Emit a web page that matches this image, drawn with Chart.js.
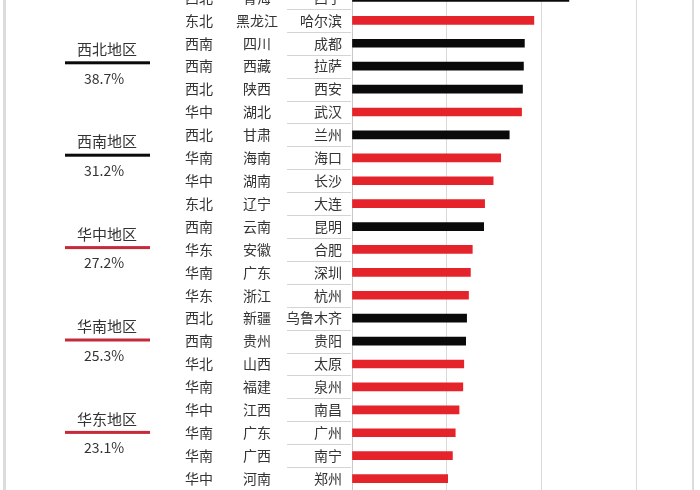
<!DOCTYPE html>
<html>
<head>
<meta charset="utf-8">
<script src="https://cdn.jsdelivr.net/npm/chart.js@4"></script>
<style>
  html, body { margin: 0; padding: 0; background: #ffffff; overflow: hidden; width: 700px; height: 490px; }
  #wrap { position: absolute; left: 0; top: -14px; width: 700px; height: 504px; }
</style>
</head>
<body>
<div id="wrap"><canvas id="c"></canvas></div>
<script>
const regions   = ['西北','东北','西南','西南','西北','华中','西北','华南','华中','东北','西南','华东','华南','华东','西北','西南','华北','华南','华中','华南','华南','华中'];
const provinces = ['青海','黑龙江','四川','西藏','陕西','湖北','甘肃','海南','湖南','辽宁','云南','安徽','广东','浙江','新疆','贵州','山西','福建','江西','广东','广西','河南'];
const cities    = ['西宁','哈尔滨','成都','拉萨','西安','武汉','兰州','海口','长沙','大连','昆明','合肥','深圳','杭州','乌鲁木齐','贵阳','太原','泉州','南昌','广州','南宁','郑州'];
const values    = [22.9,19.2,18.2,18.1,18.0,17.9,16.6,15.7,14.9,14.0,13.9,12.7,12.5,12.3,12.1,12.0,11.8,11.7,11.3,10.9,10.6,10.1];

const summaryRegions = ['西北地区','西南地区','华中地区','华南地区','华东地区'];
const summaryShares  = [38.7,31.2,27.2,25.3,23.1];

const BLACK = '#0a0a0a', RED = '#e5232b', LINE_RED = '#c62a3a';
const isBlack = r => r === '西北' || r === '西南';
const barColors = regions.map(r => isBlack(r) ? BLACK : RED);
const summaryColors = summaryRegions.map(r => isBlack(r.slice(0, 2)) ? BLACK : LINE_RED);

const FONT = '"Noto Sans CJK SC", "Noto Sans", sans-serif';

const labelPlugin = {
  id: 'labels',
  afterDraw(chart) {
    const ctx = chart.ctx;
    const ys = chart.scales.y;
    const off = 14; // canvas offset relative to page
    ctx.save();
    // frame
    ctx.fillStyle = '#dcdcdc';
    ctx.fillRect(3, 0, 3, chart.height);
    ctx.fillRect(692, 0, 2, chart.height);
    // row labels
    ctx.font = '14px ' + FONT;
    ctx.fillStyle = '#333333';
    ctx.textBaseline = 'middle';
    for (let i = 0; i < cities.length; i++) {
      const y = ys.getPixelForValue(i);
      ctx.textAlign = 'center';
      ctx.fillText(regions[i], 199, y);
      ctx.fillText(provinces[i], 257, y);
      ctx.textAlign = 'right';
      ctx.fillText(cities[i], 342, y);
      if (i < cities.length - 1) {
        const yb = Math.round((y + ys.getPixelForValue(i + 1)) / 2) + 0.5;
        ctx.strokeStyle = '#d4d4d4';
        ctx.lineWidth = 1;
        ctx.beginPath();
        ctx.moveTo(287, yb);
        ctx.lineTo(351, yb);
        ctx.stroke();
      }
    }
    // summary annotations
    for (let k = 0; k < summaryRegions.length; k++) {
      const base = 49.3 + k * 92.4 + off;
      ctx.textAlign = 'center';
      ctx.fillStyle = '#333333';
      ctx.font = '15px ' + FONT;
      ctx.fillText(summaryRegions[k], 107, base);
      ctx.fillStyle = summaryColors[k];
      ctx.fillRect(65, base + 12, 85, 3);
      ctx.fillStyle = '#333333';
      ctx.font = '14px ' + FONT;
      ctx.fillText(summaryShares[k].toFixed(1) + '%', 104, base + 29);
    }
    ctx.restore();
  }
};

new Chart(document.getElementById('c'), {
  type: 'bar',
  data: {
    labels: cities,
    datasets: [{
      data: values,
      backgroundColor: barColors,
      barThickness: 8,
      borderWidth: 0
    }]
  },
  options: {
    indexAxis: 'y',
    responsive: true,
    maintainAspectRatio: false,
    animation: false,
    layout: { padding: { left: 0, right: 7, top: 0, bottom: 0 } },
    plugins: { legend: { display: false }, tooltip: { enabled: false } },
    scales: {
      x: {
        min: 0, max: 36,
        ticks: { display: false, stepSize: 10 },
        grid: { color: '#d9d9d9', lineWidth: 1, drawTicks: false },
        border: { display: false },
        afterFit(scale) { scale.height = 0; }
      },
      y: {
        ticks: { display: false },
        grid: { display: false, drawTicks: false },
        border: { display: true, color: '#c8c8c8', width: 1 },
        afterFit(scale) { scale.width = 352; }
      }
    }
  },
  plugins: [labelPlugin]
});
</script>
</body>
</html>
